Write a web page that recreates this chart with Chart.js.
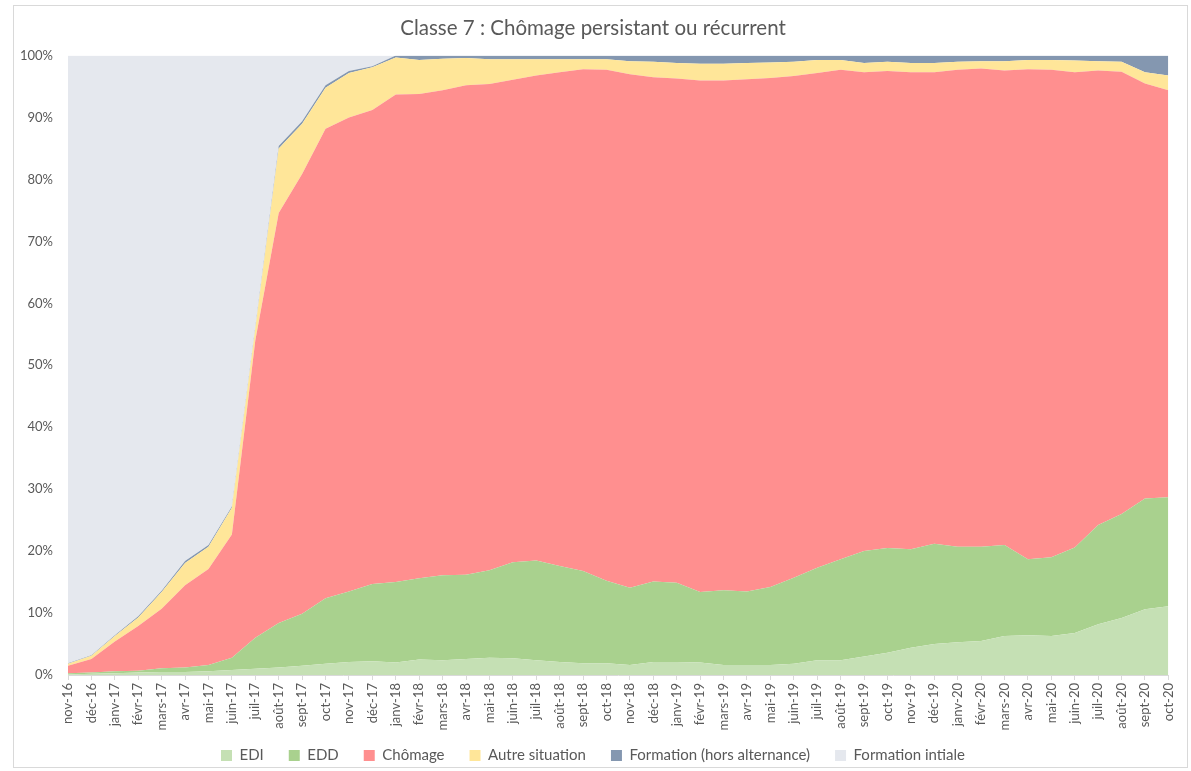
<!DOCTYPE html>
<html lang="fr">
<head>
<meta charset="utf-8">
<title>Classe 7 : Chômage persistant ou récurrent</title>
<script src="https://cdn.jsdelivr.net/npm/chart.js@4"></script>
<style>
  body { margin: 0; background: #fff; }
  #box {
    position: absolute;
    left: 13px;
    top: 5px;
    width: 1173px;
    height: 761px;
    border: 1px solid #d9d9d9;
  }
</style>
</head>
<body>
<div id="box"><canvas id="chart" width="1173" height="761"></canvas></div>
<script>
const months = [
  "nov-16", "déc-16",
  "janv-17", "févr-17", "mars-17", "avr-17", "mai-17", "juin-17",
  "juil-17", "août-17", "sept-17", "oct-17", "nov-17", "déc-17",
  "janv-18", "févr-18", "mars-18", "avr-18", "mai-18", "juin-18",
  "juil-18", "août-18", "sept-18", "oct-18", "nov-18", "déc-18",
  "janv-19", "févr-19", "mars-19", "avr-19", "mai-19", "juin-19",
  "juil-19", "août-19", "sept-19", "oct-19", "nov-19", "déc-19",
  "janv-20", "févr-20", "mars-20", "avr-20", "mai-20", "juin-20",
  "juil-20", "août-20", "sept-20", "oct-20",
];

// shares in %
const edi = [
  0.1, 0.2, 0.3, 0.4, 0.5, 0.5, 0.6, 0.8, 1.0, 1.2, 1.5, 1.8, 2.1, 2.2,
  2.0, 2.5, 2.4, 2.6, 2.8, 2.7, 2.4, 2.1, 1.9, 1.9, 1.6, 2.1,
  2.1, 2.0, 1.6, 1.6, 1.6, 1.8, 2.4, 2.4, 3.0, 3.6, 4.4, 5.0,
  5.3, 5.5, 6.3, 6.4, 6.3, 6.8, 8.2, 9.2, 10.6, 11.1,
];
const edd = [
  0.2, 0.2, 0.3, 0.3, 0.6, 0.7, 1.0, 2.0, 5.0, 7.2, 8.4, 10.6, 11.4, 12.5,
  13.0, 13.1, 13.7, 13.6, 14.1, 15.5, 16.1, 15.5, 14.9, 13.3, 12.5, 13.0,
  12.8, 11.4, 12.1, 11.9, 12.6, 13.9, 14.9, 16.3, 17.0, 16.9, 15.9, 16.2,
  15.4, 15.2, 14.7, 12.3, 12.7, 13.8, 16.0, 16.8, 17.9, 17.6,
];
const chomage = [
  1.2, 2.2, 4.8, 7.2, 9.6, 13.3, 15.5, 19.9, 48.0, 66.2, 71.0, 75.8, 76.5, 76.5,
  78.7, 78.2, 78.3, 79.0, 78.5, 77.9, 78.3, 79.7, 81.0, 82.5, 82.9, 81.4,
  81.4, 82.6, 82.3, 82.7, 82.2, 81.0, 79.9, 79.0, 77.3, 77.0, 77.0, 76.1,
  77.0, 77.2, 76.6, 79.1, 78.7, 76.7, 73.4, 71.4, 67.0, 65.7,
];
const autre = [
  0.3, 0.5, 0.9, 1.4, 2.7, 3.6, 3.6, 4.3, 2.0, 10.4, 8.1, 6.6, 7.2, 6.9,
  6.0, 5.5, 5.1, 4.4, 4.0, 3.3, 2.6, 2.1, 1.6, 1.7, 2.1, 2.5,
  2.5, 2.7, 2.7, 2.6, 2.5, 2.3, 2.1, 1.6, 1.5, 1.5, 1.5, 1.5,
  1.3, 1.2, 1.5, 1.5, 1.6, 1.9, 1.5, 1.6, 1.8, 2.4,
];
const formationHors = [
  0.1, 0.1, 0.1, 0.2, 0.2, 0.3, 0.3, 0.2, 0.2, 0.4, 0.4, 0.4, 0.3, 0.2,
  0.3, 0.7, 0.5, 0.4, 0.6, 0.6, 0.6, 0.6, 0.6, 0.6, 0.9, 1.0,
  1.2, 1.3, 1.3, 1.2, 1.1, 1.0, 0.7, 0.7, 1.2, 1.0, 1.2, 1.2,
  1.0, 0.9, 0.9, 0.7, 0.7, 0.8, 0.9, 1.0, 2.7, 3.2,
];
const formationInitiale = [
  98.1, 96.8, 93.6, 90.5, 86.4, 81.6, 79.0, 72.8, 43.8, 14.6, 10.6, 4.8, 2.5, 1.7,
  0, 0, 0, 0, 0, 0, 0, 0, 0, 0, 0, 0,
  0, 0, 0, 0, 0, 0, 0, 0, 0, 0, 0, 0,
  0, 0, 0, 0, 0, 0, 0, 0, 0, 0,
];

const seriesNames = ["EDI", "EDD", "Chômage", "Autre situation", "Formation (hors alternance)", "Formation intiale"];
const seriesColors = ["#c5e0b4", "#a9d18e", "#ff8f8f", "#ffe699", "#8497b0", "#e5e8ee"];
const seriesData = [edi, edd, chomage, autre, formationHors, formationInitiale];

const textColor = "#595959";
Chart.defaults.font.family = "Lato, 'Open Sans', sans-serif";
Chart.defaults.color = textColor;

// stacked areas: first one filled to the axis, the others to the one below
const datasets = seriesNames.map((name, i) => ({
  label: name,
  data: seriesData[i],
  backgroundColor: seriesColors[i],
  borderColor: seriesColors[i],
  borderWidth: 0,
  pointRadius: 0,
  pointHoverRadius: 0,
  tension: 0,
  fill: i === 0 ? "origin" : "-1",
}));

// keep the wide gaps between legend items but pull the row down near the edge
const legendFit = {
  id: "legendFit",
  beforeLayout(chart) {
    const legend = chart.legend;
    if (legend && !legend._patched) {
      const fit = legend.fit;
      legend.fit = function () {
        fit.call(this);
        this.height = 32;
      };
      legend._patched = true;
    }
  },
  afterLayout(chart) {
    // grow the box upwards only, so the clip area still holds the row
    chart.legend.top -= 12;
    chart.legend.height += 12;
  },
};

const chart = new Chart(document.querySelector("#chart"), {
  type: "line",
  data: { labels: months, datasets: datasets },
  plugins: [legendFit],
  options: {
    responsive: false,
    animation: false,
    layout: { padding: { top: 0, right: 15, left: 0, bottom: 0 } },
    plugins: {
      title: {
        display: true,
        text: "Classe 7 : Chômage persistant ou récurrent",
        color: textColor,
        font: { size: 20.5, weight: "normal" },
        padding: { top: 10, bottom: 15 },
      },
      legend: {
        position: "bottom",
        labels: {
          boxWidth: 11,
          boxHeight: 11,
          padding: 25,
          color: textColor,
          font: { size: 15 },
        },
      },
      tooltip: { enabled: false },
    },
    scales: {
      x: {
        offset: false,
        grid: {
          display: true,
          drawOnChartArea: false,
          drawTicks: true,
          tickLength: 5,
          color: "#d9d9d9",
        },
        border: { color: "#d9d9d9" },
        ticks: {
          autoSkip: false,
          minRotation: 90,
          maxRotation: 90,
          padding: 3,
          color: textColor,
          font: { size: 13 },
        },
        afterFit(scale) {
          scale.height = 60;
        },
      },
      y: {
        stacked: true,
        min: 0,
        max: 100,
        grid: { display: false, drawTicks: false },
        border: { display: false },
        ticks: {
          stepSize: 10,
          padding: 15,
          color: textColor,
          font: { size: 13 },
          callback: (v) => v + "%",
        },
        afterFit(scale) {
          scale.width = 54;
        },
      },
    },
  },
});
</script>
</body>
</html>
